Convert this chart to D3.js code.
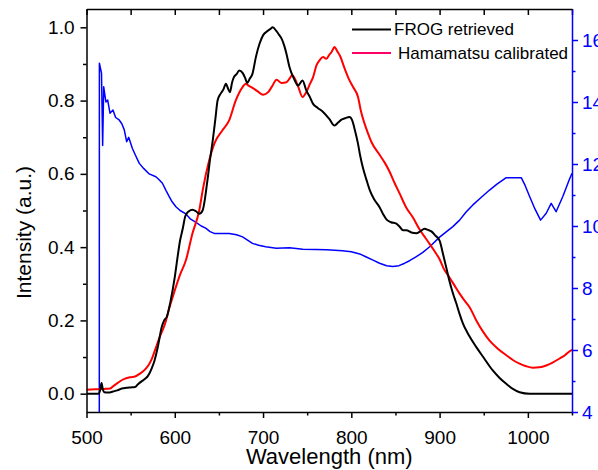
<!DOCTYPE html>
<html>
<head>
<meta charset="utf-8">
<script src="https://cdn.jsdelivr.net/npm/d3@7"></script>
<style>
  html, body { margin: 0; padding: 0; background: #fff; }
  svg { display: block; }
  text { font-family: "Liberation Sans", Arial, sans-serif; }
</style>
</head>
<body>
<svg id="chart" width="598" height="470"></svg>
<script>
// ---- data ----
const frogWl = [500,514,515.5,517,518.5,520,525,530,535,540,545,550,555,558,562,566,570,574,577,581,585,588,591,595,600,603,606,609,612,616,620,624,627.7,631.5,637,640,643,646,648.5,652,655,658,660,662.4,665,667,670,673,677,680,682,685,688,692,696,700,704,708,711,715,718,721,724,726.5,730,735,739.7,744.7,749,753,756.7,762,768,775,781,785,788.8,793,798,801,804,807.6,810,813,817,821,826,832,836,840,845,851,855,858.5,862.4,868,873.7,878,883,887,890.7,895,900,904,908,911,915,919,923,926.5,933,941.6,950,960,968,975.5,983,990.6,1002,1050];
const frogVal = [0,0,0.01,0.029,0.012,0.004,0.003,0.006,0.009,0.014,0.016,0.017,0.018,0.025,0.033,0.04,0.05,0.07,0.09,0.13,0.18,0.2,0.21,0.25,0.318,0.37,0.418,0.45,0.485,0.498,0.502,0.498,0.491,0.5,0.582,0.64,0.691,0.75,0.8,0.819,0.83,0.846,0.835,0.823,0.85,0.864,0.872,0.882,0.875,0.86,0.848,0.86,0.873,0.92,0.955,0.978,0.988,0.995,1.0,0.99,0.98,0.969,0.95,0.928,0.891,0.86,0.841,0.855,0.828,0.81,0.791,0.78,0.769,0.75,0.732,0.74,0.748,0.752,0.755,0.746,0.72,0.682,0.65,0.618,0.585,0.555,0.53,0.509,0.49,0.475,0.468,0.464,0.455,0.446,0.446,0.44,0.438,0.443,0.45,0.447,0.443,0.432,0.418,0.38,0.34,0.309,0.275,0.246,0.215,0.191,0.16,0.127,0.098,0.064,0.043,0.027,0.013,0.004,0,0];

const hamaWl = [500,510,520,526.6,530,534,538,543.6,550,555,560,565,570,574,577.5,583,589,594,600,606,612.6,620,627.7,632,639,644.7,654,661.6,669,676.8,680.5,684,688,694,700,705.8,710,715.3,721,726.5,730,733,737,740,744.7,749,753,756.7,760.5,764,768,771.8,775,777.5,781,784,787,792.5,797,802,807.6,811,815,819,822.8,832,838,843.5,849,854.8,862,870,877.4,884,888.7,894,900,905,911,917,922.7,928,934,941.6,949,956.6,965,975.5,983,990.6,998,1005.7,1013,1020.8,1028,1036,1042,1047,1050];
const hamaVal = [0.011,0.012,0.013,0.014,0.02,0.027,0.034,0.041,0.045,0.047,0.054,0.063,0.077,0.095,0.118,0.155,0.191,0.235,0.282,0.325,0.364,0.437,0.5,0.56,0.637,0.682,0.719,0.746,0.8,0.837,0.846,0.84,0.835,0.825,0.816,0.823,0.838,0.857,0.848,0.85,0.86,0.869,0.855,0.837,0.81,0.823,0.845,0.864,0.896,0.91,0.919,0.914,0.925,0.932,0.946,0.935,0.923,0.887,0.86,0.837,0.81,0.77,0.737,0.71,0.687,0.652,0.63,0.605,0.575,0.546,0.509,0.48,0.448,0.425,0.409,0.39,0.367,0.34,0.318,0.295,0.273,0.255,0.236,0.2,0.17,0.145,0.125,0.105,0.092,0.082,0.075,0.071,0.072,0.077,0.085,0.096,0.105,0.115,0.12];

const blueWl = [514.5,514.6,517,518.3,519.5,522,524,526.6,530,533,537,540,542.8,545.5,547.8,552,556,559.8,565,571,578.6,582,586,590,593.7,597,601.3,606,612.6,618,624,630,635,640,644.7,652,661.6,670,676.8,682,688,695,703,715,730,745,760,772,790,800,809.5,817,824.6,832,840,847,854,860.5,866,873.7,881,888.8,900,915,922.7,930,937.7,947,956.6,965,975.5,992.5,997,1002,1008,1014.4,1020.8,1026.4,1032,1039.6,1047,1050];
const blueVal = [4.0,15.25,14.93,12.6,14.49,14.0,14.06,13.64,13.74,13.5,13.42,13.3,13.1,12.72,12.86,12.5,12.25,12.02,11.85,11.68,11.59,11.5,11.38,11.15,10.95,10.78,10.62,10.5,10.39,10.22,10.12,10.0,9.93,9.82,9.76,9.76,9.76,9.72,9.65,9.55,9.44,9.38,9.33,9.28,9.3,9.25,9.24,9.23,9.2,9.17,9.1,9.0,8.9,8.8,8.72,8.69,8.72,8.8,8.88,9.01,9.15,9.33,9.64,9.98,10.19,10.45,10.68,10.92,11.16,11.35,11.56,11.56,11.3,10.95,10.55,10.19,10.41,10.73,10.46,10.95,11.5,11.7];

const xMajorTicks = [500,600,700,800,900,1000];
const xMinorTicks = [550,650,750,850,950,1050];
const yMajorTicks = [0.0,0.2,0.4,0.6,0.8,1.0];
const yMinorTicks = [0.1,0.3,0.5,0.7,0.9];
const y2MajorTicks = [4,6,8,10,12,14,16];
const y2MinorTicks = [5,7,9,11,13,15];
const legendLabels = ["FROG retrieved", "Hamamatsu calibrated"];

// ---- layout ----
const L = 86.5, R = 572, T = 9, B = 412;
const svg = d3.select("#chart");
const x = d3.scaleLinear().domain([500,1050]).range([L,R]);
const y = d3.scaleLinear().domain([-0.05,1.05]).range([B,T]);
const y2 = d3.scaleLinear().domain([4,17]).range([B,T]);

const fs = 19;
// plot lines
const clipId = "plotclip";
svg.append("clipPath").attr("id",clipId).append("rect")
  .attr("x",L).attr("y",T).attr("width",R-L).attr("height",B-T);
const g = svg.append("g").attr("clip-path","url(#"+clipId+")");

const blueLine = d3.line().x((d,i)=>x(blueWl[i])).y(d=>y2(d));
g.append("path").datum(blueVal).attr("d",blueLine)
  .attr("fill","none").attr("stroke","#0000ff").attr("stroke-width",1.5).attr("stroke-linejoin","round");
const redLine = d3.line().x((d,i)=>x(hamaWl[i])).y(d=>y(d)).curve(d3.curveMonotoneX);
g.append("path").datum(hamaVal).attr("d",redLine)
  .attr("fill","none").attr("stroke","#ff0000").attr("stroke-width",2).attr("stroke-linejoin","round");
const blackLine = d3.line().x((d,i)=>x(frogWl[i])).y(d=>y(d)).curve(d3.curveMonotoneX);
g.append("path").datum(frogVal).attr("d",blackLine)
  .attr("fill","none").attr("stroke","#000").attr("stroke-width",2).attr("stroke-linejoin","round");

// axes
function styleAxis(sel, color) {
  sel.selectAll("path.domain").attr("stroke",color).attr("stroke-width",1.5);
  sel.selectAll(".tick line").attr("stroke",color).attr("stroke-width",1.5);
  sel.selectAll(".tick text").attr("fill",color).style("font-size",fs+"px")
     .style("font-family","'Liberation Sans', Arial, sans-serif");
}
// bottom
const xb = svg.append("g").attr("transform",`translate(0,${B})`)
  .call(d3.axisBottom(x).tickValues(xMajorTicks).tickSize(6).tickSizeOuter(0).tickPadding(13).tickFormat(d3.format("d")));
styleAxis(xb,"#000");
xb.selectAll(".tick text").attr("dy","0.71em").attr("y",19);
const xbm = svg.append("g").attr("transform",`translate(0,${B})`)
  .call(d3.axisBottom(x).tickValues(xMinorTicks).tickSize(3.5).tickFormat(""));
xbm.select("path.domain").remove(); styleAxis(xbm,"#000");
// top
const xt = svg.append("g").attr("transform",`translate(0,${T})`)
  .call(d3.axisBottom(x).tickValues(xMajorTicks.concat(xMinorTicks)).tickSize(6).tickSizeOuter(0).tickFormat(""));
styleAxis(xt,"#000");
// left
const yl = svg.append("g").attr("transform",`translate(${L},0)`)
  .call(d3.axisLeft(y).tickValues(yMajorTicks).tickSize(6).tickSizeOuter(0).tickPadding(6).tickFormat(d3.format(".1f")));
styleAxis(yl,"#000");
const ylm = svg.append("g").attr("transform",`translate(${L},0)`)
  .call(d3.axisLeft(y).tickValues(yMinorTicks).tickSize(3.5).tickFormat(""));
ylm.select("path.domain").remove(); styleAxis(ylm,"#000");
// right
const yr = svg.append("g").attr("transform",`translate(${R},0)`)
  .call(d3.axisRight(y2).tickValues(y2MajorTicks).tickSize(6).tickSizeOuter(0).tickPadding(4).tickFormat(d3.format("d")));
styleAxis(yr,"#0000ff");
const yrm = svg.append("g").attr("transform",`translate(${R},0)`)
  .call(d3.axisRight(y2).tickValues(y2MinorTicks).tickSize(3.5).tickFormat(""));
yrm.select("path.domain").remove(); styleAxis(yrm,"#0000ff");

// titles
svg.append("text").attr("x",(L+R)/2).attr("y",464).attr("text-anchor","middle")
  .style("font-size","22px").attr("fill","#000").text("Wavelength (nm)");
svg.append("text").attr("transform","translate(31,232.5) rotate(-90)").attr("text-anchor","middle")
  .style("font-size","21px").attr("fill","#000").text("Intensity (a.u.)");

// legend
const legColors = ["#000000","#ff0066"];
const legY = [29.5, 53];
const legTextX = [394, 398];
legendLabels.forEach((lab,i)=>{
  svg.append("line").attr("x1",352).attr("x2",391).attr("y1",legY[i]).attr("y2",legY[i])
    .attr("stroke",legColors[i]).attr("stroke-width",2);
  svg.append("text").attr("x",legTextX[i]).attr("y",legY[i]+5.5)
    .style("font-size","17px").attr("fill","#000").text(lab);
});
</script>
</body>
</html>
